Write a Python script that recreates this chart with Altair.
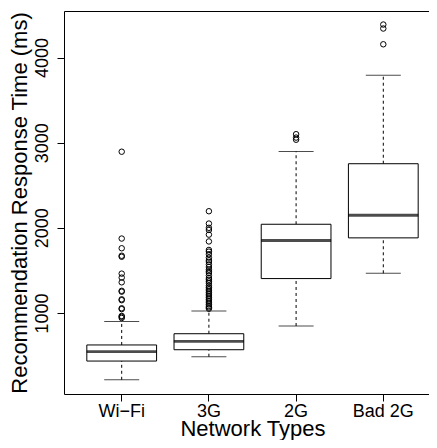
import altair as alt
import pandas as pd

# ---- data ----
categories = ["Wi−Fi", "3G", "2G", "Bad 2G"]
whisker_low = [215, 486, 847, 1466]
q1 = [435, 568, 1404, 1882]
median = [545, 666, 1851, 2148]
q3 = [624, 756, 2042, 2753]
whisker_high = [901, 1024, 2898, 3792]

outliers_wifi = [2894, 1874, 1760, 1660, 1672, 1462, 1415, 1360, 1250, 1260,
                 1150, 1160, 1045, 1055, 955, 965, 941]
outliers_3g = [2195, 2050, 2000, 1975, 1920, 1840, 1740, 1720, 1690, 1650,
               1620, 1600, 1570, 1540, 1510, 1490, 1470, 1440, 1410, 1390,
               1370, 1350, 1320, 1300, 1280, 1260, 1240, 1220, 1200, 1180,
               1160, 1140, 1120, 1100, 1080, 1065, 1050]
outliers_2g = [3035, 3060, 3100]
outliers_bad2g = [4156, 4341, 4388]

y_ticks = [1000, 2000, 3000, 4000]

# ---- tables ----
stats = pd.DataFrame({
    "net": categories,
    "lo": whisker_low,
    "q1": q1,
    "med": median,
    "q3": q3,
    "hi": whisker_high,
})
out_rows = []
for cat, vals in zip(categories, [outliers_wifi, outliers_3g, outliers_2g, outliers_bad2g]):
    for v in vals:
        out_rows.append({"net": cat, "v": v})
outs = pd.DataFrame(out_rows)

FONT = "Liberation Sans"

x_enc = alt.X(
    "net:N",
    sort=categories,
    scale=alt.Scale(paddingInner=0.2, paddingOuter=0.2617),
    axis=alt.Axis(
        title="Network Types",
        labelAngle=0,
        labelFont=FONT,
        labelFontSize=18,
        labelColor="black",
        labelBaseline="alphabetic",
        labelPadding=15,
        tickSize=7,
        tickColor="black",
        domain=False,
        grid=False,
        titleFont=FONT,
        titleFontSize=22,
        titleFontWeight="normal",
        titleColor="black",
        titleBaseline="alphabetic",
        titleY=41,
    ),
)

y_scale = alt.Scale(domain=[48, 4547], nice=False, zero=False)
y_axis = alt.Axis(
    title="Recommendation Response Time (ms)",
    values=y_ticks,
    format="d",
    labelAngle=270,
    labelAlign="center",
    labelBaseline="alphabetic",
    labelFont=FONT,
    labelFontSize=18,
    labelColor="black",
    labelPadding=10,
    tickSize=7,
    tickColor="black",
    domain=False,
    grid=False,
    titleFont=FONT,
    titleFontSize=22,
    titleFontWeight="normal",
    titleColor="black",
    titleBaseline="alphabetic",
    titleX=-38,
    titleAngle=270,
)

base = alt.Chart(stats)

lower_whisker = base.mark_rule(color="black", strokeWidth=1, strokeDash=[3, 3]).encode(
    x=x_enc, y=alt.Y("lo:Q", scale=y_scale, axis=y_axis), y2="q1:Q"
)
upper_whisker = base.mark_rule(color="black", strokeWidth=1, strokeDash=[3, 3]).encode(
    x=x_enc, y=alt.Y("q3:Q", scale=y_scale, axis=y_axis), y2="hi:Q"
)
box = base.mark_bar(fill="white", stroke="black", strokeWidth=1).encode(
    x=x_enc, y=alt.Y("q1:Q", scale=y_scale, axis=y_axis), y2="q3:Q"
)
cap_lo = base.mark_tick(color="black", thickness=1, size=35).encode(
    x=x_enc, y=alt.Y("lo:Q", scale=y_scale, axis=y_axis)
)
cap_hi = base.mark_tick(color="black", thickness=1, size=35).encode(
    x=x_enc, y=alt.Y("hi:Q", scale=y_scale, axis=y_axis)
)
med = base.mark_tick(color="black", thickness=2.8, size=70).encode(
    x=x_enc, y=alt.Y("med:Q", scale=y_scale, axis=y_axis)
)
points = alt.Chart(outs).mark_point(
    shape="circle", filled=False, color="black", strokeWidth=1, size=30, opacity=1
).encode(x=x_enc, y=alt.Y("v:Q", scale=y_scale, axis=y_axis))

chart = alt.layer(
    lower_whisker, upper_whisker, box, cap_lo, cap_hi, med, points
).properties(
    width=377,
    height=383,
    padding={"left": 56, "top": 3, "right": -12, "bottom": 46},
    autosize=alt.AutoSizeParams(type="none"),
    background="white",
).configure_view(
    stroke="black", strokeWidth=1
)

chart.save("out.html", embed_options={"renderer": "svg", "actions": False})
